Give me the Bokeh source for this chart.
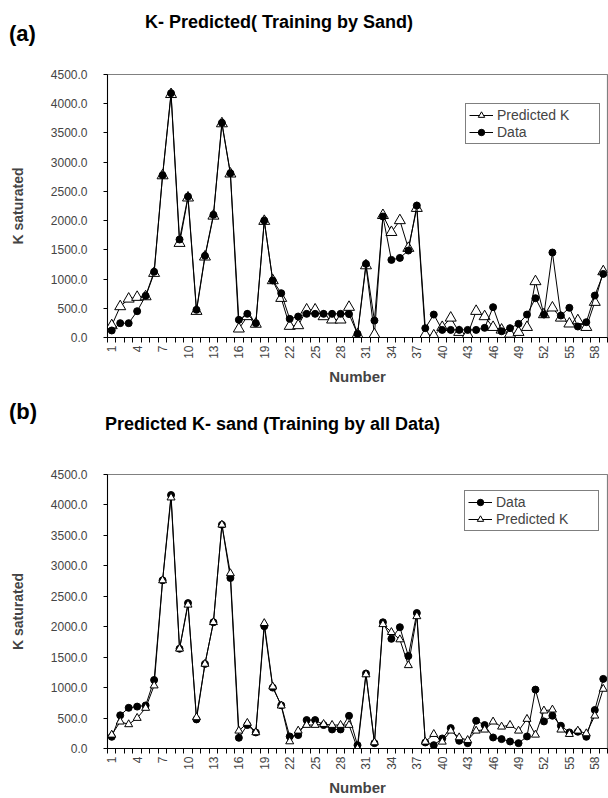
import numpy as np
from bokeh.plotting import figure
from bokeh.models import (FixedTicker, NumeralTickFormatter, Range1d, Legend,
                          LegendItem, ColumnDataSource, Div)
from bokeh.layouts import column
from bokeh.embed import file_html
from bokeh.resources import INLINE

numbers = list(range(1, 60))
x_tick_labels = list(range(1, 59, 3))
y_ticks = [0, 500, 1000, 1500, 2000, 2500, 3000, 3500, 4000, 4500]

# Panel (a): K- Predicted (Training by Sand)
a_data = [120, 245, 245, 450, 713, 1124, 2777, 4180, 1677, 2412,
          474, 1397, 2099, 3673, 2811, 302, 405, 245, 2002, 975,
          758, 319, 359, 405, 405, 405, 405, 405, 400, 63,
          1260, 290, 2070, 1328, 1362, 1488, 2258, 160, 393, 130,
          130, 130, 130, 130, 165, 519, 107, 160, 234, 393,
          672, 393, 1454, 376, 508, 188, 262, 718, 1088]
a_pred = [205, 530, 660, 690, 700, 1100, 2770, 4160, 1613, 2390,
          450, 1380, 2080, 3660, 2800, 148, 360, 230, 1990, 975,
          672, 194, 205, 474, 474, 359, 302, 302, 519, 50,
          1230, 51, 2090, 1800, 2002, 1528, 2212, 50, 30, 175,
          335, 90, 50, 450, 359, 175, 130, 60, 90, 175,
          958, 393, 508, 335, 234, 290, 175, 604, 1128]

# Panel (b): Predicted K- sand (Training by all Data)
b_data = [192, 545, 668, 688, 707, 1125, 2762, 4163, 1638, 2388,
          478, 1389, 2073, 3674, 2800, 176, 385, 264, 2008, 1000,
          710, 198, 220, 467, 467, 385, 313, 313, 537, 55,
          1231, 88, 2073, 1801, 1992, 1519, 2225, 99, 55, 165,
          335, 126, 88, 456, 385, 181, 154, 115, 88, 198,
          967, 445, 538, 374, 264, 275, 192, 632, 1143]
b_pred = [225, 440, 396, 500, 665, 1033, 2760, 4120, 1638, 2360,
          511, 1389, 2073, 3674, 2876, 291, 418, 264, 2057, 1016,
          703, 115, 291, 385, 385, 400, 385, 385, 385, 0,
          1215, 99, 2040, 1910, 1790, 1366, 2170, 110, 236, 110,
          291, 181, 137, 291, 308, 440, 357, 385, 291, 484,
          225, 621, 637, 308, 236, 291, 247, 538, 978]

FONT = "Liberation Sans"
FIG_W = 608
HEAD_H = 60
FIG_H = 399 - HEAD_H


def header(tag, title, tag_top, title_left, title_top):
    html = (
        '<div style="position:relative;width:%dpx;height:%dpx;'
        'font-family:\'Liberation Sans\',Arial,sans-serif;color:black;">'
        '<span style="position:absolute;left:9px;top:%dpx;font-size:22px;'
        'font-weight:bold;line-height:1;white-space:nowrap;">%s</span>'
        '<span style="position:absolute;left:%dpx;top:%dpx;font-size:18px;'
        'font-weight:bold;line-height:1;white-space:nowrap;">%s</span>'
        '</div>' % (FIG_W, HEAD_H, tag_top, tag, title_left, title_top, title)
    )
    return Div(text=html, width=FIG_W, height=HEAD_H, margin=0)


def make_panel(data, pred, frame_left, frame_top, frame_bottom,
               tri_size, pred_first, legend_xy):
    p = figure(width=FIG_W, height=FIG_H, output_backend="svg",
               toolbar_location=None, margin=0,
               x_range=Range1d(0.5, 59.5), y_range=Range1d(0, 4500),
               min_border_left=frame_left, min_border_right=1,
               min_border_top=frame_top, min_border_bottom=FIG_H - frame_bottom)
    p.xgrid.visible = False
    p.ygrid.visible = False
    p.outline_line_color = "#808080"
    p.outline_line_width = 1.2
    p.background_fill_color = "white"
    p.border_fill_color = "white"

    src = ColumnDataSource(dict(x=numbers, data=data, pred=pred))

    def draw_pred():
        l = p.line("x", "pred", source=src, line_color="black", line_width=1)
        s = p.scatter("x", "pred", source=src, marker="triangle", size=tri_size,
                      fill_color="white", line_color="black", line_width=1)
        return [l, s]

    def draw_data():
        l = p.line("x", "data", source=src, line_color="black", line_width=1)
        s = p.scatter("x", "data", source=src, marker="circle", size=7,
                      fill_color="black", line_color="black")
        return [l, s]

    if pred_first:
        r_pred = draw_pred()
        r_data = draw_data()
        items = [LegendItem(label="Predicted K", renderers=r_pred),
                 LegendItem(label="Data", renderers=r_data)]
    else:
        r_data = draw_data()
        r_pred = draw_pred()
        items = [LegendItem(label="Data", renderers=r_data),
                 LegendItem(label="Predicted K", renderers=r_pred)]

    legend = Legend(items=items, location=legend_xy,
                    border_line_color="black", border_line_width=1,
                    background_fill_color="white", background_fill_alpha=1,
                    label_text_font=FONT, label_text_font_size="14px",
                    glyph_width=24, glyph_height=16, label_height=16,
                    label_width=99, label_standoff=4, padding=3,
                    spacing=1, margin=0)
    p.add_layout(legend)

    xa = p.xaxis[0]
    xa.ticker = FixedTicker(ticks=x_tick_labels,
                            minor_ticks=[i + 0.5 for i in range(0, 60)])
    xa.major_label_orientation = np.pi / 2
    xa.major_tick_line_color = None
    xa.major_tick_out = 5
    xa.major_tick_in = 0
    xa.minor_tick_out = 5
    xa.minor_tick_in = 0
    xa.minor_tick_line_color = "black"
    xa.axis_line_color = "black"
    xa.major_label_text_font = FONT
    xa.major_label_text_font_size = "12px"
    xa.major_label_standoff = 3
    xa.axis_label = "Number"
    xa.axis_label_text_font = FONT
    xa.axis_label_text_font_size = "15px"
    xa.axis_label_text_font_style = "bold"
    xa.axis_label_standoff = 6

    ya = p.yaxis[0]
    ya.ticker = FixedTicker(ticks=y_ticks)
    ya.formatter = NumeralTickFormatter(format="0.0")
    ya.major_tick_out = 4
    ya.major_tick_in = 0
    ya.minor_tick_line_color = None
    ya.axis_line_color = "black"
    ya.major_label_text_font = FONT
    ya.major_label_text_font_size = "12px"
    ya.major_label_standoff = 16
    ya.axis_label = "K saturated"
    ya.axis_label_text_font = FONT
    ya.axis_label_text_font_size = "14px"
    ya.axis_label_text_font_style = "bold"
    ya.axis_label_standoff = 22
    return p


head_a = header("(a)", "K- Predicted( Training by Sand)",
                tag_top=23, title_left=145, title_top=13)
pa = make_panel(a_data, a_pred, frame_left=103, frame_top=74 - HEAD_H,
                frame_bottom=337 - HEAD_H, tri_size=11, pred_first=True,
                legend_xy=(358, 193))
head_b = header("(b)", "Predicted K- sand (Training by all Data)",
                tag_top=2, title_left=105, title_top=16)
pb = make_panel(b_data, b_pred, frame_left=107, frame_top=75 - HEAD_H,
                frame_bottom=352 - HEAD_H, tri_size=8, pred_first=False,
                legend_xy=(357, 217))

layout = column(head_a, pa, head_b, pb, spacing=0)
open("out.html", "w").write(file_html(layout, INLINE))
